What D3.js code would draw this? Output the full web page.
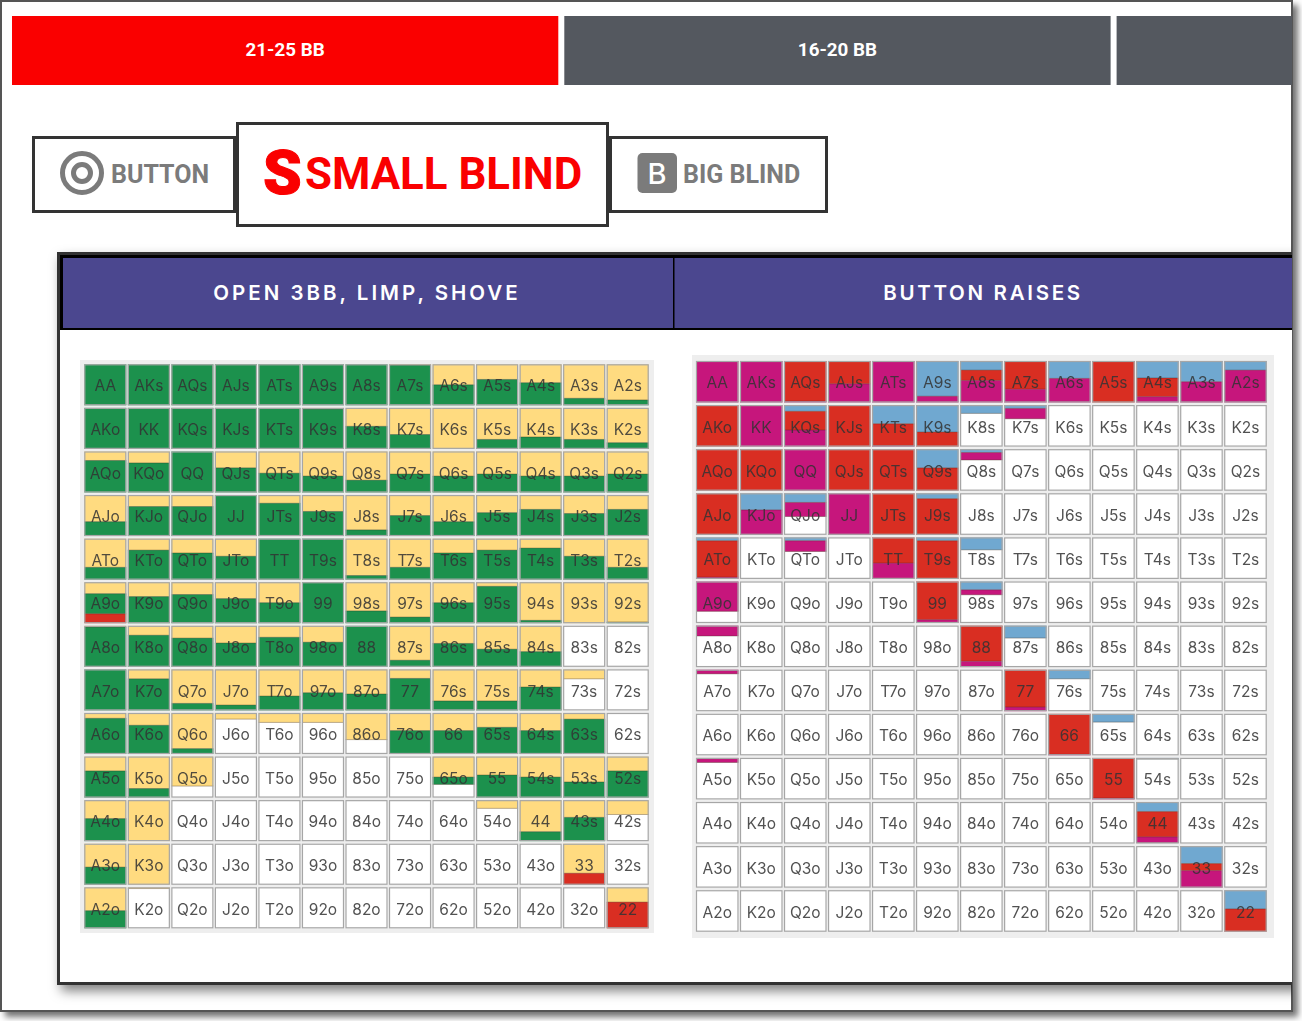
<!DOCTYPE html>
<html><head><meta charset="utf-8">
<script src="https://cdn.jsdelivr.net/npm/d3@7"></script>
<style>html,body{margin:0;padding:0;background:#fff;overflow:hidden}svg{display:block}</style>
</head><body><div id="c"></div>
<script>
const ranks = ["A","K","Q","J","T","9","8","7","6","5","4","3","2"];
const stackTabs = ["21-25 BB","16-20 BB",""];
const columnTitles = ["OPEN 3BB, LIMP, SHOVE","BUTTON RAISES"];
const positions = ["BUTTON","SMALL BLIND","BIG BLIND"];

const openLimp = [
[0,0,0,0,0,0,0,2,50,37,45,83,87],
[0,0,0,0,0,3,45,65,100,77,71,77,85],
[22,28,0,40,53,60,70,55,60,55,60,60,55],
[65,28,28,0,20,40,85,50,65,43,35,45,35],
[70,28,35,43,0,0,90,70,35,28,23,43,70],
[28,35,30,40,50,0,70,85,50,10,93,100,97],
[3,23,30,42,28,40,0,84,43,57,63,0,0],
[0,23,83,87,65,57,60,22,77,77,43,23,0],
[13,30,87,15,23,23,65,43,43,35,43,15,0],
[35,78,72,0,0,0,0,0,50,45,50,62,35],
[45,100,0,0,0,0,0,0,0,20,77,42,35],
[57,100,0,0,0,0,0,0,0,0,0,72,0],
[57,3,0,0,0,0,0,0,0,0,0,0,36]];
const openRaise = [
[100,100,100,100,100,100,100,98,50,63,55,17,13],
[100,100,100,100,100,97,55,35,0,23,29,23,15],
[78,72,100,60,47,40,30,45,40,45,40,40,45],
[35,72,72,100,80,60,15,50,35,57,65,55,65],
[30,72,65,57,100,100,10,30,65,72,77,57,30],
[49,65,70,60,50,100,30,15,50,90,7,0,3],
[97,77,70,58,72,60,100,16,57,43,37,0,0],
[100,77,17,13,35,43,40,78,23,23,57,0,0],
[87,70,13,0,0,0,0,57,57,65,57,85,0],
[65,22,0,0,0,0,0,0,18,55,50,38,65],
[55,0,0,0,0,0,0,0,0,0,23,58,0],
[43,0,0,0,0,0,0,0,0,0,0,0,0],
[43,0,0,0,0,0,0,0,0,0,0,0,0]];
const openShove = [
[0,0,0,0,0,0,0,0,0,0,0,0,0],
[0,0,0,0,0,0,0,0,0,0,0,0,0],
[0,0,0,0,0,0,0,0,0,0,0,0,0],
[0,0,0,0,0,0,0,0,0,0,0,0,0],
[0,0,0,0,0,0,0,0,0,0,0,0,0],
[23,0,0,0,0,0,0,0,0,0,0,0,0],
[0,0,0,0,0,0,0,0,0,0,0,0,0],
[0,0,0,0,0,0,0,0,0,0,0,0,0],
[0,0,0,0,0,0,0,0,0,0,0,0,0],
[0,0,0,0,0,0,0,0,0,0,0,0,0],
[0,0,0,0,0,0,0,0,0,0,0,0,0],
[0,0,0,0,0,0,0,0,0,0,0,28,0],
[0,0,0,0,0,0,0,0,0,0,0,0,64]];
const raiseCall = [
[0,0,0,0,0,85,22,0,42,0,41,50,22],
[0,0,15,0,45,65,20,8,0,0,0,0,0],
[0,0,0,0,0,45,8,0,0,0,0,0,0],
[0,40,22,0,0,13,0,0,0,0,0,0,0],
[8,0,8,0,0,8,30,0,0,0,0,0,0],
[0,0,0,0,0,0,20,0,0,0,0,0,0],
[0,0,0,0,0,0,0,30,0,0,0,0,0],
[0,0,0,0,0,0,0,0,22,0,0,0,0],
[0,0,0,0,0,0,0,0,0,20,0,0,0],
[0,0,0,0,0,0,0,0,0,0,3,0,0],
[0,0,0,0,0,0,0,0,0,0,23,0,0],
[0,0,0,0,0,0,0,0,0,0,0,42,0],
[0,0,0,0,0,0,0,0,0,0,0,0,45]];
const raiseShove = [
[0,0,97,55,0,0,25,68,0,100,45,0,0],
[100,0,45,100,53,35,0,0,0,0,0,0,0],
[100,100,0,100,100,55,0,0,0,0,0,0,0],
[100,0,0,0,100,87,0,0,0,0,0,0,0],
[88,0,0,0,62,92,0,0,0,0,0,0,0],
[0,0,0,0,0,92,0,0,0,0,0,0,0],
[0,0,0,0,0,0,86,0,0,0,0,0,0],
[0,0,0,0,0,0,0,90,0,0,0,0,0],
[0,0,0,0,0,0,0,0,98,0,0,0,0],
[0,0,0,0,0,0,0,0,0,97,0,0,0],
[0,0,0,0,0,0,0,0,0,0,61,0,0],
[0,0,0,0,0,0,0,0,0,0,0,17,0],
[0,0,0,0,0,0,0,0,0,0,0,0,55]];
const raiseThree = [
[100,100,3,45,100,15,53,32,58,0,14,50,78],
[0,100,40,0,2,0,0,25,0,0,0,0,0],
[0,0,100,0,0,0,18,0,0,0,0,0,0],
[0,60,34,100,0,0,0,0,0,0,0,0,0],
[4,0,26,0,38,0,0,0,0,0,0,0,0],
[72,0,0,0,0,8,12,0,0,0,0,0,0],
[25,0,0,0,0,0,14,0,0,0,0,0,0],
[10,0,0,0,0,0,0,10,0,0,0,0,0],
[0,0,0,0,0,0,0,0,2,0,0,0,0],
[11,0,0,0,0,0,0,0,0,3,0,0,0],
[0,0,0,0,0,0,0,0,0,0,14,0,0],
[0,0,0,0,0,0,0,0,0,0,0,41,0],
[0,0,0,0,0,0,0,0,0,0,0,0,0]];

const W = 1302, H = 1021;
const svg = d3.select("#c").append("svg").attr("width",W).attr("height",H);
const defs = svg.append("defs");
defs.append("clipPath").attr("id","frame").append("rect").attr("x",0).attr("y",0).attr("width",1292).attr("height",1011);
const soft = defs.append("filter").attr("id","soft").attr("x","-2%").attr("y","-2%").attr("width","104%").attr("height","104%");
soft.append("feGaussianBlur").attr("stdDeviation",0.6);
const ds = (id,dx,dy,b,o) => { const f = defs.append("filter").attr("id",id).attr("x","-5%").attr("y","-5%").attr("width","110%").attr("height","110%");
  f.append("feDropShadow").attr("dx",dx).attr("dy",dy).attr("stdDeviation",b).attr("flood-color","#000").attr("flood-opacity",o); };
ds("pageShadow",5,5,3,.55); ds("tableShadow",4,6,6,.5);

// page
svg.append("rect").attr("x",1).attr("y",1).attr("width",1291).attr("height",1010).attr("fill","#fff").attr("stroke","#555").attr("stroke-width",2).attr("filter","url(#pageShadow)");
const page = svg.append("g").attr("clip-path","url(#frame)");

// stack tabs
const tabX = d3.scalePoint().domain(stackTabs).range([12,1116.6]);
const tabW = 546.3;
const tabs = page.selectAll("g.tab").data(stackTabs).join("g").attr("class","tab");
tabs.append("rect").attr("x",d=>tabX(d)).attr("y",16).attr("width",tabW).attr("height",69).attr("fill",(d,i)=>i===0?"#fa0000":"#54585f");
tabs.append("text").attr("x",d=>tabX(d)+tabW/2).attr("y",55.5).attr("text-anchor","middle").attr("fill","#fff")
  .attr("font-family","Roboto").attr("font-weight",700).attr("font-size",18.8).text(d=>d);

// position boxes
const boxes = [[32,136,204,77],[236,122,373,105],[609,136,219,77]];
page.selectAll("rect.pos").data(boxes).join("rect").attr("class","pos").attr("x",d=>d[0]+1.5).attr("y",d=>d[1]+1.5).attr("width",d=>d[2]-3).attr("height",d=>d[3]-3).attr("fill","#fff").attr("stroke","#333").attr("stroke-width",3);
const grey = "#7b7b7b";
page.append("circle").attr("cx",82).attr("cy",173).attr("r",19.5).attr("fill","none").attr("stroke",grey).attr("stroke-width",5);
page.append("circle").attr("cx",82).attr("cy",173).attr("r",8.5).attr("fill","none").attr("stroke",grey).attr("stroke-width",5);
page.append("text").attr("x",111).attr("y",183).attr("font-family","Roboto").attr("font-weight",700).attr("font-size",25).attr("fill",grey).text(positions[0]);
page.append("text").attr("x",263).attr("y",194).attr("font-family","Roboto").attr("font-weight",900).attr("font-size",62).attr("fill","#fa0000").attr("stroke","#fa0000").attr("stroke-width",1).text("S");
page.append("text").attr("x",305).attr("y",189).attr("font-family","Roboto").attr("font-weight",700).attr("font-size",43.8).attr("fill","#fa0000").text(positions[1]);
page.append("rect").attr("x",637.5).attr("y",153).attr("width",39.5).attr("height",40).attr("rx",5).attr("fill",grey);
page.append("text").attr("x",657).attr("y",184).attr("text-anchor","middle").attr("font-family","Inter").attr("font-weight",500).attr("font-size",29).attr("fill","#fff").text("B");
page.append("text").attr("x",683).attr("y",183).attr("font-family","Roboto").attr("font-weight",700).attr("font-size",25).attr("fill",grey).text(positions[2]);

// table
page.append("rect").attr("x",58.5).attr("y",253.5).attr("width",1400).attr("height",730).attr("fill","#fff").attr("stroke","#333").attr("stroke-width",3).attr("filter","url(#tableShadow)");
page.append("rect").attr("x",60).attr("y",255).attr("width",1300).attr("height",75).attr("fill","#000");
const headX = [[63,673],[674.5,1300]];
const headSpacing = [3.0,2.7];
const heads = page.selectAll("g.head").data(columnTitles).join("g").attr("class","head");
heads.append("rect").attr("x",(d,i)=>headX[i][0]).attr("y",258).attr("width",(d,i)=>headX[i][1]-headX[i][0]).attr("height",70).attr("fill","#4b478f");
heads.append("text").attr("x",(d,i)=>i===0?367:983).attr("y",300).attr("text-anchor","middle").attr("fill","#fff")
  .attr("font-family","Inter").attr("font-weight",600).attr("font-size",20.5).attr("letter-spacing",(d,i)=>headSpacing[i]).text(d=>d);

function label(i,j){ return i===j ? ranks[i]+ranks[j] : i<j ? ranks[i]+ranks[j]+"s" : ranks[j]+ranks[i]+"o"; }

function drawGrid(panel, xr, yr, series){
  const g = page.append("g").attr("filter","url(#soft)");
  g.append("rect").attr("x",panel[0]).attr("y",panel[1]).attr("width",panel[2]-panel[0]).attr("height",panel[3]-panel[1]).attr("fill","#eeeeee");
  const x = d3.scaleBand().domain(d3.range(13)).range(xr).paddingInner(0.035);
  const y = d3.scaleBand().domain(d3.range(13)).range(yr).paddingInner(0.06);
  const h = d3.scaleLinear().domain([0,100]).range([0,y.bandwidth()]);
  const cells = d3.cross(d3.range(13),d3.range(13),(i,j)=>({i,j}));
  const cg = g.selectAll("g.cell").data(cells).join("g").attr("class","cell").attr("transform",d=>`translate(${x(d.j)},${y(d.i)})`);
  cg.append("rect").attr("width",x.bandwidth()).attr("height",y.bandwidth()).attr("fill","#fff");
  cg.each(function(d){
    let acc = 0;
    const segs = series.map(s=>{ const v = s.values[d.i][d.j]; const seg = {v,start:acc,color:s.color}; acc += v; return seg; }).filter(s=>s.v>0);
    d3.select(this).selectAll("rect.seg").data(segs).join("rect").attr("class","seg")
      .attr("y",s=>h(s.start)).attr("width",x.bandwidth()).attr("height",s=>h(s.v)).attr("fill",s=>s.color);
    const edges = segs.filter(s=>s.start+s.v<100);
    d3.select(this).selectAll("line.edge").data(edges).join("line").attr("class","edge")
      .attr("x1",0).attr("x2",x.bandwidth()).attr("y1",s=>h(s.start+s.v)).attr("y2",s=>h(s.start+s.v))
      .attr("stroke","rgba(60,40,20,.35)").attr("stroke-width",1);
  });
  cg.append("rect").attr("x",.5).attr("y",.5).attr("width",x.bandwidth()-1).attr("height",y.bandwidth()-1).attr("fill","none").attr("stroke","#a6a6a6").attr("stroke-width",1.2);
  cg.append("text").attr("x",x.bandwidth()/2).attr("y",y.bandwidth()/2+6.7).attr("text-anchor","middle")
    .attr("font-family","Inter").attr("font-size",15.5).attr("fill","#333").attr("fill-opacity",.85).text(d=>label(d.i,d.j));
}
drawGrid([80,360,654,933],[84.3,648.7],[364.3,928.3],[
  {values:openLimp,color:"#ffdb80"},{values:openRaise,color:"#1b914e"},{values:openShove,color:"#d92d23"}]);
drawGrid([692,355,1274,938],[696,1266.7],[361,931.7],[
  {values:raiseCall,color:"#70a8d0"},{values:raiseShove,color:"#d92d23"},{values:raiseThree,color:"#c6177c"}]);
</script></body></html>
